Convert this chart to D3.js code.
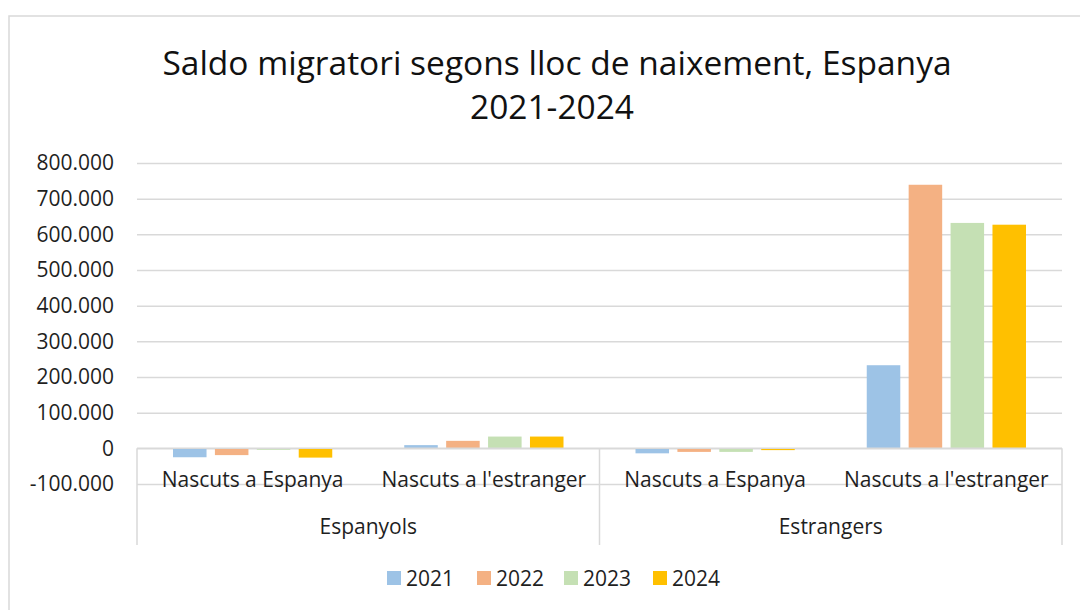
<!DOCTYPE html>
<html>
<head>
<meta charset="utf-8">
<script src="https://cdn.jsdelivr.net/npm/d3@7"></script>
<style>
  body { margin: 0; background: #fff; }
  text { font-family: "Open Sans", sans-serif; }
</style>
</head>
<body>
<svg id="chart"></svg>
<script>
// data
var groups = ["Espanyols", "Estrangers"];
var subCats = ["Nascuts a Espanya", "Nascuts a l'estranger"];
var years = ["2021", "2022", "2023", "2024"];
var colors = ["#9DC3E6", "#F4B183", "#C5E0B4", "#FFC000"];
var yTicks = [-100000, 0, 100000, 200000, 300000, 400000, 500000, 600000, 700000, 800000];

// one array per year, order: Esp/Espanya, Esp/estranger, Estr/Espanya, Estr/estranger
var v2021 = [-25000, 9000, -14000, 233000];
var v2022 = [-19000, 21000, -10000, 739000];
var v2023 = [-4000, 33000, -10000, 632000];
var v2024 = [-26000, 33000, -5000, 627000];
var series = [v2021, v2022, v2023, v2024];

var W = 1080, H = 610;
var svg = d3.select("#chart").attr("width", W).attr("height", H);

// chart frame
svg.append("rect")
  .attr("x", 9).attr("y", 16)
  .attr("width", 1200).attr("height", 700)
  .attr("fill", "none").attr("stroke", "#d9d9d9").attr("stroke-width", 1.5);

var margin = {left: 137, right: 18, top: 163, bottom: 126};
var plotW = W - margin.left - margin.right;

var cats = [];
groups.forEach(function(g) { subCats.forEach(function(s) { cats.push(g + "|" + s); }); });

var x0 = d3.scaleBand().domain(cats).range([margin.left, margin.left + plotW]);
var x1 = d3.scaleBand().domain(years).range([36, x0.bandwidth() - 36]).paddingInner(0.2);
var y = d3.scaleLinear().domain([-100000, 800000]).range([484, 163]);

var loc = d3.formatLocale({decimal: ",", thousands: ".", grouping: [3], currency: ["", ""], minus: "-"});
var fmt = loc.format(",.0f");

// gridlines
var grid = svg.append("g")
  .attr("transform", "translate(" + margin.left + ",0)")
  .call(d3.axisLeft(y).tickValues(yTicks).tickSize(-plotW).tickFormat(""));
grid.select(".domain").remove();
grid.selectAll("line").attr("stroke", "#d9d9d9").attr("stroke-width", 1.5);

// y labels
var yAx = svg.append("g")
  .attr("transform", "translate(114,0)")
  .call(d3.axisLeft(y).tickValues(yTicks).tickSize(0).tickPadding(0).tickFormat(fmt));
yAx.select(".domain").remove();
yAx.selectAll("text").attr("font-size", 21).attr("fill", "#1f1f1f")
  .style("font-family", "'Open Sans', sans-serif");

// bars
years.forEach(function(yr, i) {
  svg.append("g").selectAll("rect")
    .data(series[i])
    .join("rect")
    .attr("x", function(d, j) { return x0(cats[j]) + x1(yr); })
    .attr("width", x1.bandwidth())
    .attr("y", function(d) { return y(Math.max(0, d)); })
    .attr("height", function(d) { return Math.abs(y(d) - y(0)); })
    .attr("fill", colors[i]);
});

// category axis line + separators
var axisY = y(0);
svg.append("line")
  .attr("x1", margin.left).attr("x2", margin.left + plotW)
  .attr("y1", axisY).attr("y2", axisY)
  .attr("stroke", "#d9d9d9").attr("stroke-width", 1.5);

var sepX = [margin.left, x0(cats[2]), margin.left + plotW];
svg.append("g").selectAll("line")
  .data(sepX)
  .join("line")
  .attr("x1", function(d) { return d; }).attr("x2", function(d) { return d; })
  .attr("y1", axisY).attr("y2", 545)
  .attr("stroke", "#d9d9d9").attr("stroke-width", 1.5);

// level 1 labels
svg.append("g").selectAll("text")
  .data(cats)
  .join("text")
  .attr("x", function(d) { return x0(d) + x0.bandwidth() / 2; })
  .attr("y", 487)
  .attr("text-anchor", "middle")
  .attr("font-size", 21)
  .attr("fill", "#1f1f1f")
  .text(function(d) { return d.split("|")[1]; });

// level 2 labels
svg.append("g").selectAll("text")
  .data(groups)
  .join("text")
  .attr("x", function(d) { return x0(d + "|" + subCats[0]) + x0.bandwidth(); })
  .attr("y", 534)
  .attr("text-anchor", "middle")
  .attr("font-size", 21)
  .attr("fill", "#1f1f1f")
  .text(function(d) { return d; });

// title
svg.append("text")
  .attr("x", 557).attr("y", 75)
  .attr("text-anchor", "middle")
  .attr("font-size", 33.5)
  .attr("fill", "#111")
  .text("Saldo migratori segons lloc de naixement, Espanya");
svg.append("text")
  .attr("x", 552).attr("y", 119)
  .attr("text-anchor", "middle")
  .attr("font-size", 33.5)
  .attr("fill", "#111")
  .text("2021-2024");

// legend
var legX = [387, 477, 564, 653];
var leg = svg.append("g").selectAll("g")
  .data(years)
  .join("g")
  .attr("transform", function(d, i) { return "translate(" + legX[i] + ",578)"; });
leg.append("rect")
  .attr("x", 0).attr("y", -7).attr("width", 14).attr("height", 14)
  .attr("fill", function(d, i) { return colors[i]; });
leg.append("text")
  .attr("x", 19).attr("y", 7.5)
  .attr("font-size", 21)
  .attr("fill", "#1f1f1f")
  .text(function(d) { return d; });
</script>
</body>
</html>
